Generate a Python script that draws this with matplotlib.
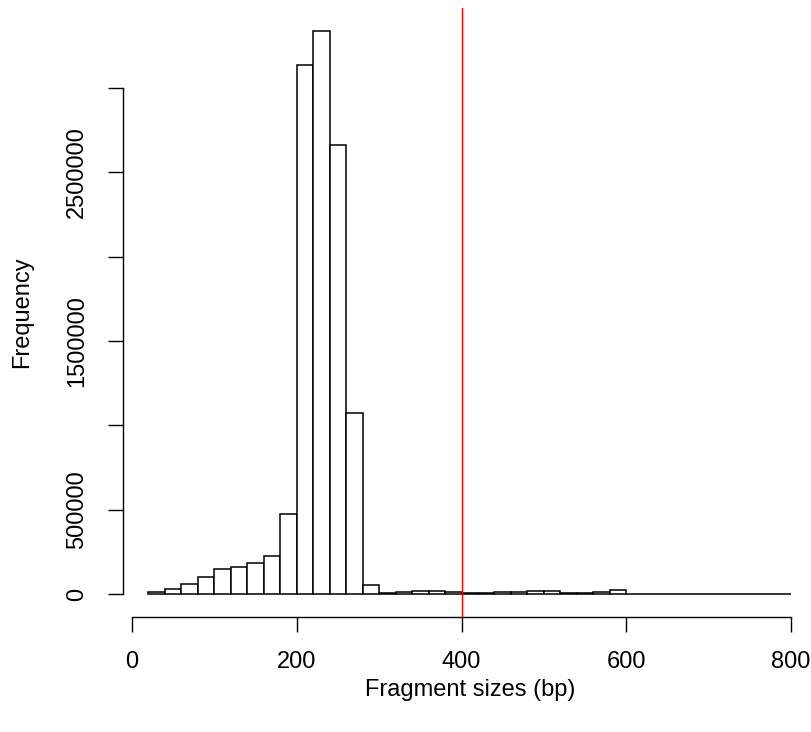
import numpy as np
import matplotlib
matplotlib.use("Agg")
import matplotlib.pyplot as plt

plt.rcParams['font.family'] = ['Liberation Sans', 'DejaVu Sans']

# Histogram data (bin width 20 bp)
bin_left = list(range(20, 800, 20))
counts = [10000, 30000, 61000, 101000, 147000, 160000, 182000, 224000, 475000,
          3137000, 3339000, 2662000, 1075000, 55000, 8000, 12000, 18000, 20000,
          10000, 5000, 4000, 10000, 12000, 18000, 15000, 5000, 4000, 13000, 25000,
          2000, 1500, 1000, 1000, 1000, 500, 500, 500, 500, 500]
bin_width = 20
cutoff = 400
x_ticks = [0, 200, 400, 600, 800]
y_ticks = [0, 500000, 1000000, 1500000, 2000000, 2500000, 3000000]
y_ticklabels = ["0", "500000", "", "1500000", "", "2500000", ""]

W, H = 812, 732
fig = plt.figure(figsize=(W / 100, H / 100), dpi=100)

xmin, xmax = bin_left[0], bin_left[-1] + bin_width
xr = xmax - xmin
ymax = max(counts)
# R-style 4% padding
x0 = xmin - 0.04 * xr
x1_full = xmax + 0.04 * xr
y0 = -0.04 * ymax
y1 = 1.04 * ymax

# plot region pixels
left_px, top_px, bottom_px = 122.8, 8.4, 616.5
right_px_full = 816.7
right_px = W
x1 = x0 + (x1_full - x0) * (right_px - left_px) / (right_px_full - left_px)

ax = fig.add_axes([left_px / W, 1 - bottom_px / H, (right_px - left_px) / W, (bottom_px - top_px) / H])
ax.bar(bin_left, counts, width=bin_width, align='edge', color='white',
       edgecolor='black', linewidth=1.1)
ax.axvline(cutoff, color='#FF0000', linewidth=1.0)
ax.set_xlim(x0, x1)
ax.set_ylim(y0, y1)

for s in ['top', 'right']:
    ax.spines[s].set_visible(False)
ax.spines['left'].set_bounds(y_ticks[0], y_ticks[-1])
ax.spines['bottom'].set_bounds(x_ticks[0], x_ticks[-1])
ax.spines['left'].set_linewidth(1.0)
ax.spines['bottom'].set_linewidth(1.0)

ax.set_xticks(x_ticks)
ax.set_xticklabels([str(v) for v in x_ticks])
ax.set_yticks(y_ticks)
ax.set_yticklabels(y_ticklabels, rotation=90, va='center')
ax.tick_params(axis='both', length=10.5, width=1.0, labelsize=17)
ax.tick_params(axis='x', pad=14)
ax.tick_params(axis='y', pad=14.5)

fig.text((left_px + right_px_full) / 2 / W, 1 - 690 / H, "Fragment sizes (bp)",
         ha='center', va='center', fontsize=17)
fig.text(22 / W, 1 - (top_px + bottom_px) / 2 / H, "Frequency",
         ha='center', va='center', rotation=90, fontsize=17)

fig.savefig("out.png", dpi=100)
